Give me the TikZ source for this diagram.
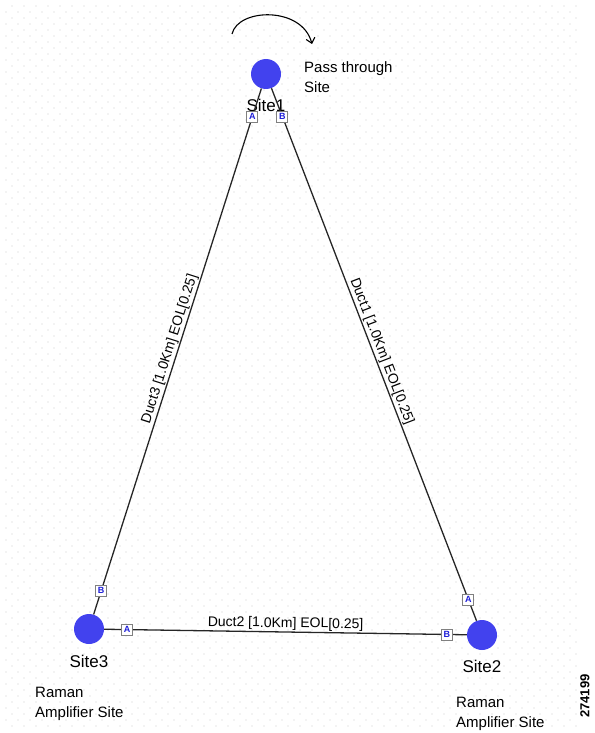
\documentclass[tikz,border=0pt]{standalone}
\usepackage{fontspec}
\setmainfont{Liberation Sans}
\usetikzlibrary{positioning, arrows.meta}

\definecolor{siteblue}{RGB}{66,66,238}
\definecolor{portblue}{RGB}{30,30,215}

\begin{document}
\begin{tikzpicture}[
    x=1pt, y=-1pt,
    font=\fontsize{15}{20}\selectfont,
    site/.style={circle, fill=siteblue, minimum size=30pt, inner sep=0pt},
    sitename/.style={font=\fontsize{17}{20}\selectfont, inner sep=1pt},
    note/.style={align=left, anchor=north west, inner sep=0pt},
    duct/.style={draw=black!85, line width=1.3pt},
    ductlabel/.style={sloped, above, inner sep=1pt, font=\fontsize{14}{16}\selectfont},
    port/.style={draw=gray, fill=white, line width=0.8pt, minimum size=11pt, inner sep=0pt, text=portblue, font=\fontsize{9}{9}\selectfont\bfseries},
    griddot/.style={fill=gray!40}
]
\useasboundingbox (0,0) rectangle (594,733);

% Dotted background grid
\foreach \r in {0,...,120}
  \foreach \c in {0,...,47}
    \fill[griddot] ({12+12*\c-6*mod(\r,2)},{6+6*\r}) circle (0.65);

% Sites
\node[site] (s1) at (266,74) {};
\node[site] (s2) at (482,635) {};
\node[site] (s3) at (89,629) {};

\node[sitename, below=9pt of s1] (s1name) {Site1};
\node[sitename, below=9pt of s2] (s2name) {Site2};
\node[sitename, below=10pt of s3] (s3name) {Site3};

\node[note] (s1note) at (304,61) {Pass through\\Site};
\node[note] (s2note) at (456,697) {Raman\\Amplifier Site};
\node[note] (s3note) at (35,687) {Raman\\Amplifier Site};

% Ducts with their ports
\draw[duct] (s3) -- node[ductlabel] {Duct3 [1.0Km] EOL[0.25]}
  node[port, pos=0.045] (s3b) {B} node[port, pos=0.946] (s1a) {A} (s1);
\draw[duct] (s1) -- node[ductlabel] {Duct1 [1.0Km] EOL[0.25]}
  node[port, pos=0.053] (s1b) {B} node[port, pos=0.96] (s2a) {A} (s2);
\draw[duct] (s3) -- node[ductlabel] {Duct2 [1.0Km] EOL[0.25]}
  node[port, pos=0.063] (s3a) {A} node[port, pos=0.945] (s2b) {B} (s2);

% Pass-through loop over Site1
\coordinate (loopstart) at (232,34);
\coordinate (loopend) at (312,44);
\draw[line width=1.1pt, -{Straight Barb[length=5pt, width=9pt]}] (loopstart) .. controls (238,8) and (302,6) .. (loopend);

% Figure number
\node[rotate=90, font=\fontsize{13}{13}\selectfont\bfseries] (figid) at (585,696) {274199};

\end{tikzpicture}
\end{document}
